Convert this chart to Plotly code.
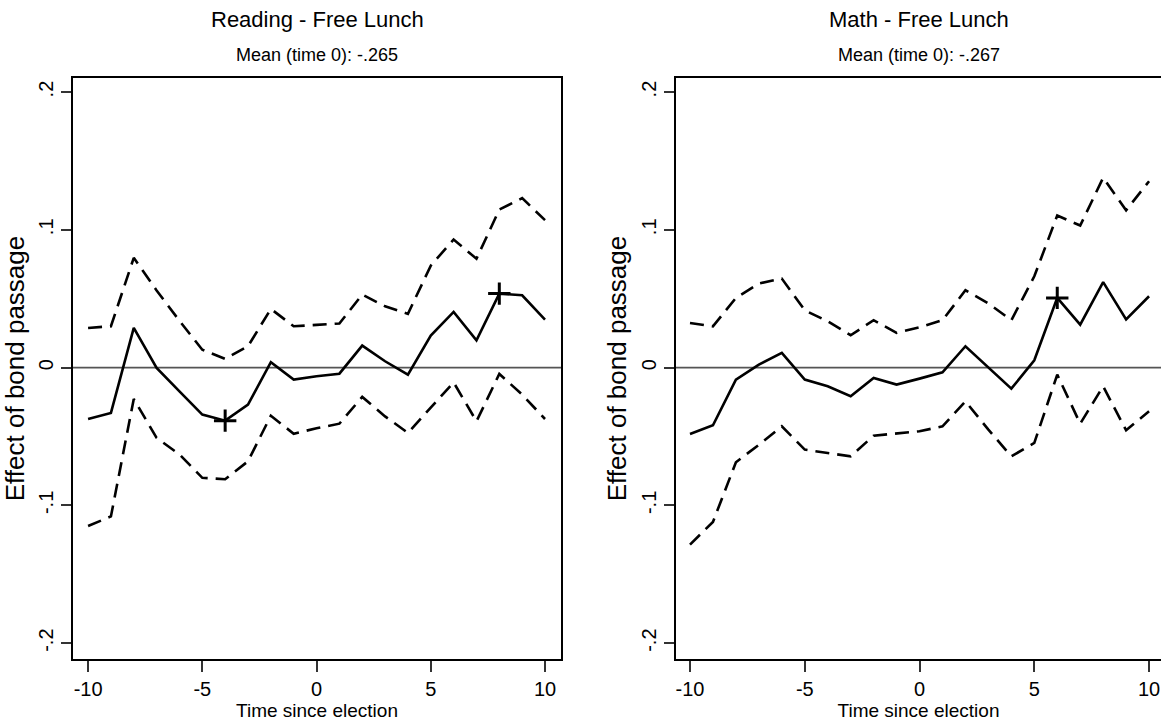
import plotly.graph_objects as go

t = list(range(-10, 11))

# Reading - Free Lunch
read_est = [-0.0373, -0.0329, 0.0288, -0.0002, -0.0172, -0.0341, -0.0385, -0.0269, 0.0039, -0.0087, -0.0063,
            -0.0044, 0.016, 0.0046, -0.0051, 0.0232, 0.0404, 0.0198, 0.0537, 0.0525, 0.0349]
read_hi = [0.0288, 0.030, 0.0797, 0.056, 0.034, 0.013, 0.0063, 0.0155, 0.0426, 0.030, 0.031,
           0.032, 0.053, 0.0445, 0.039, 0.074, 0.093, 0.079, 0.1147, 0.123, 0.107]
read_lo = [-0.115, -0.108, -0.0227, -0.051, -0.063, -0.080, -0.081, -0.068, -0.0349, -0.048, -0.044,
           -0.0407, -0.0213, -0.0354, -0.0474, -0.0293, -0.0107, -0.039, -0.0046, -0.0196, -0.0373]
read_sig_t = [-4, 8]
read_sig_v = [-0.0385, 0.0537]

# Math - Free Lunch
math_est = [-0.0482, -0.0419, -0.0087, 0.0022, 0.0107, -0.0087, -0.0136, -0.0208, -0.0075, -0.0123, -0.008,
            -0.0034, 0.0155, 0.0, -0.0153, 0.0053, 0.0506, 0.0312, 0.062, 0.0349, 0.0518]
math_hi = [0.0324, 0.030, 0.0506, 0.061, 0.0646, 0.0416, 0.0336, 0.0235, 0.0344, 0.0252, 0.0293,
           0.0344, 0.0561, 0.0465, 0.0344, 0.0663, 0.1104, 0.1031, 0.1378, 0.1142, 0.1353]
math_lo = [-0.1285, -0.112, -0.0687, -0.056, -0.0426, -0.0595, -0.062, -0.0644, -0.0494, -0.048, -0.0462,
           -0.0426, -0.0245, -0.045, -0.0644, -0.0547, -0.0051, -0.0407, -0.0136, -0.0455, -0.0317]
math_sig_t = [6]
math_sig_v = [0.0506]

titles = ["Reading - Free Lunch", "Math - Free Lunch"]
subtitles = ["Mean (time 0): -.265", "Mean (time 0): -.267"]
xticks = [-10, -5, 0, 5, 10]
xtick_text = ["-10", "-5", "0", "5", "10"]
yticks = [-0.2, -0.1, 0, 0.1, 0.2]
ytick_text = ["-.2", "-.1", "0", ".1", ".2"]

FONT = "Liberation Sans, Arial, Helvetica, sans-serif"
W, H = 1161, 727

fig = go.Figure()

panels = [
    dict(est=read_est, hi=read_hi, lo=read_lo, st=read_sig_t, sv=read_sig_v, xa="x", ya="y"),
    dict(est=math_est, hi=math_hi, lo=math_lo, st=math_sig_t, sv=math_sig_v, xa="x2", ya="y2"),
]

dash = "14px,8px"
for p in panels:
    fig.add_trace(go.Scatter(x=[-11, 11], y=[0, 0], mode="lines", line=dict(color="#555555", width=1.6),
                             xaxis=p["xa"], yaxis=p["ya"], showlegend=False, hoverinfo="skip"))
    fig.add_trace(go.Scatter(x=t, y=p["hi"], mode="lines", line=dict(color="black", width=2.6, dash=dash),
                             xaxis=p["xa"], yaxis=p["ya"], showlegend=False))
    fig.add_trace(go.Scatter(x=t, y=p["lo"], mode="lines", line=dict(color="black", width=2.6, dash=dash),
                             xaxis=p["xa"], yaxis=p["ya"], showlegend=False))
    fig.add_trace(go.Scatter(x=t, y=p["est"], mode="lines", line=dict(color="black", width=2.6),
                             xaxis=p["xa"], yaxis=p["ya"], showlegend=False))
    fig.add_trace(go.Scatter(x=p["st"], y=p["sv"], mode="markers",
                             marker=dict(symbol="cross-thin", size=16, line=dict(color="black", width=3)),
                             xaxis=p["xa"], yaxis=p["ya"], showlegend=False))

ydom = [68 / H, 649 / H]
xdom1 = [73 / W, 561 / W]
xdom2 = [676 / W, 1.0]

common_x = dict(tickmode="array", tickvals=xticks, ticktext=xtick_text, ticks="outside", ticklen=11,
                tickwidth=1.5, tickcolor="#333333", showgrid=False, zeroline=False, showline=True,
                linecolor="black", linewidth=1.5, automargin=False,
                tickfont=dict(family=FONT, size=20, color="black"),
                title=dict(text="Time since election", font=dict(family=FONT, size=19, color="black"), standoff=0))
common_y = dict(tickmode="array", tickvals=yticks, ticktext=ytick_text, ticks="outside", ticklen=10,
                tickwidth=1.5, tickcolor="#333333", showgrid=False, zeroline=False, showline=True,
                linecolor="black", linewidth=1.5, tickangle=-90, range=[-0.2115, 0.2102], automargin=False,
                tickfont=dict(family=FONT, size=20, color="black"),
                title=dict(text="Effect of bond passage", font=dict(family=FONT, size=26, color="black"), standoff=4))

fig.update_layout(
    width=W, height=H, margin=dict(l=0, r=0, t=0, b=0),
    paper_bgcolor="white", plot_bgcolor="white",
    xaxis=dict(domain=xdom1, range=[-10.66, 10.7], mirror=True, anchor="y", **common_x),
    yaxis=dict(domain=ydom, mirror=True, anchor="x", **common_y),
    xaxis2=dict(domain=xdom2, range=[-10.61, 10.52], mirror=True, anchor="y2", **common_x),
    yaxis2=dict(domain=ydom, mirror=False, anchor="x2", **common_y),
)

centers = [(73 + 561) / 2 / W, (676 + 1161) / 2 / W]
for i in range(2):
    fig.add_annotation(text=titles[i], x=centers[i], y=1 - 20 / H, xref="paper", yref="paper",
                       xanchor="center", yanchor="middle", showarrow=False,
                       font=dict(family=FONT, size=22, color="black"))
    fig.add_annotation(text=subtitles[i], x=centers[i], y=1 - 55 / H, xref="paper", yref="paper",
                       xanchor="center", yanchor="middle", showarrow=False,
                       font=dict(family=FONT, size=18, color="black"))

fig.write_html("out.html", config={"displayModeBar": False},
               post_script="document.body.style.margin='0px';document.body.style.overflow='hidden';")
